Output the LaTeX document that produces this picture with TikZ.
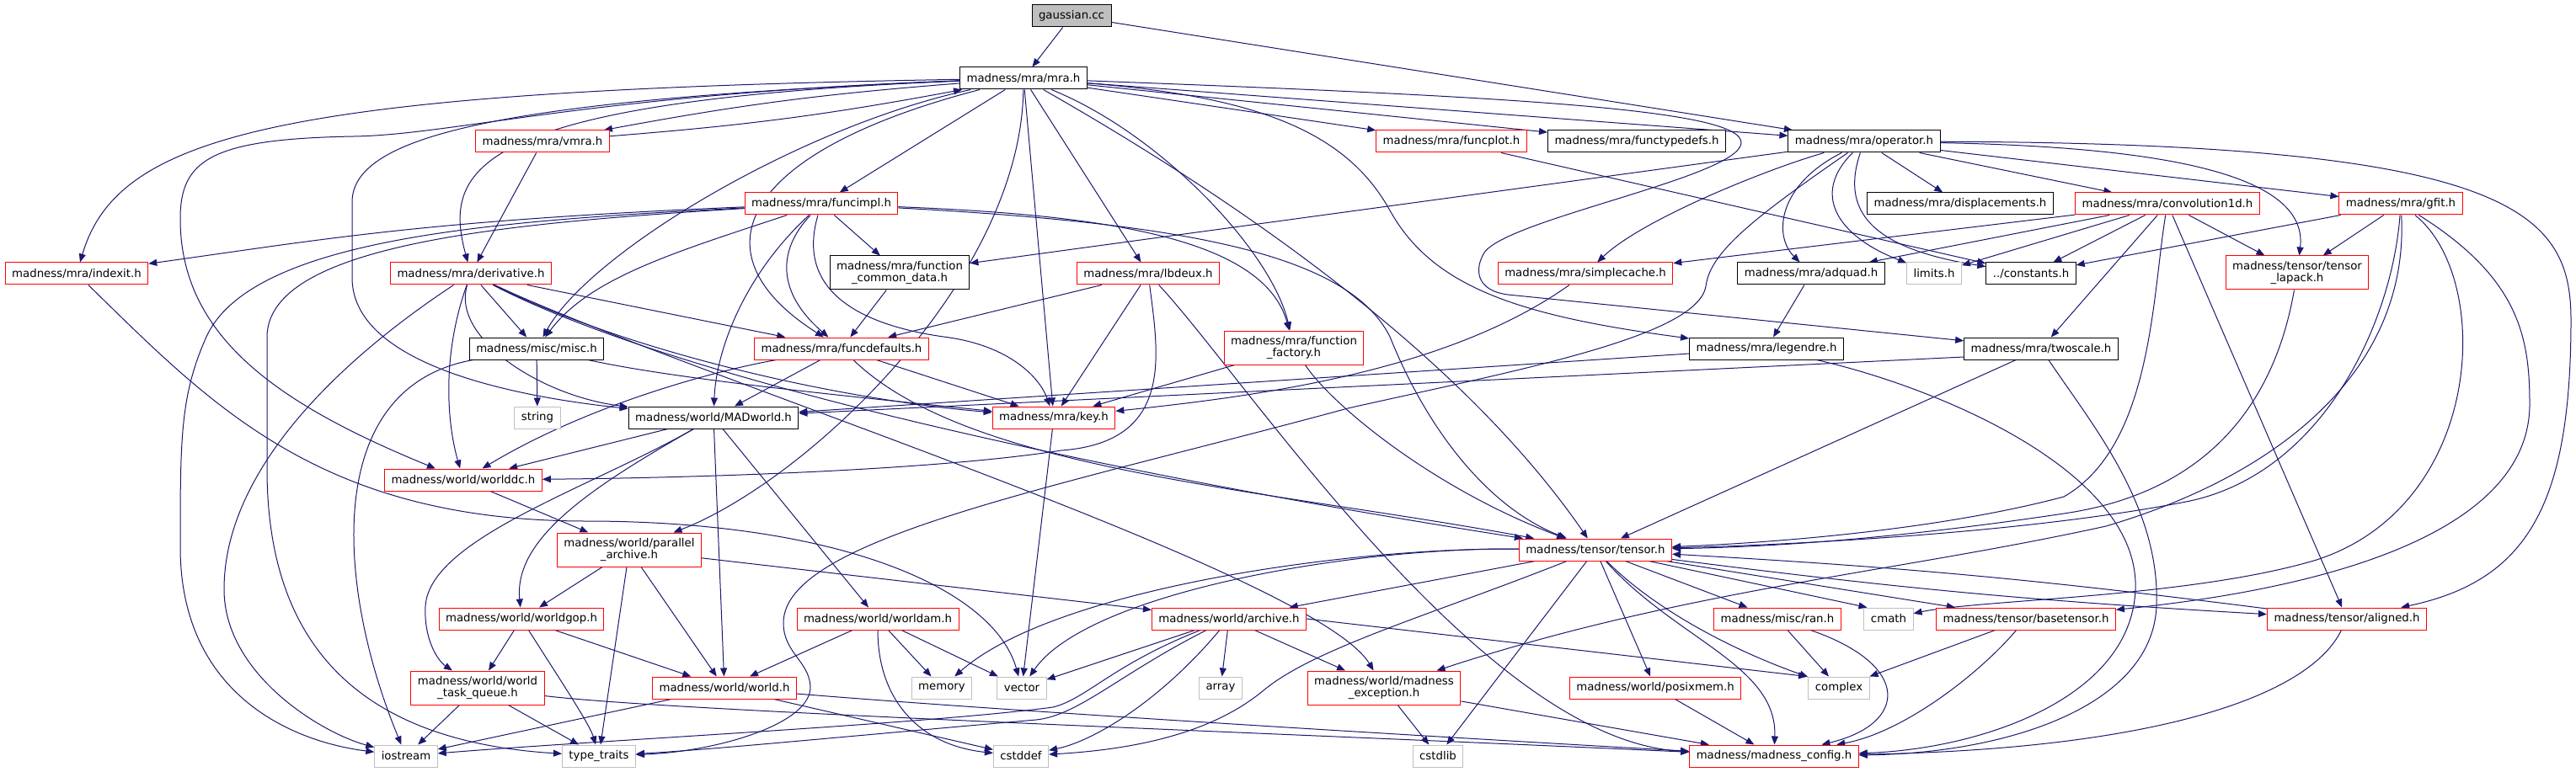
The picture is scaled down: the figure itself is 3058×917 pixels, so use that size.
\documentclass[tikz,border=0pt]{standalone}
\usepackage{fontspec}
\newfontfamily\dotfont{DejaVu Sans}
\usetikzlibrary{arrows.meta,backgrounds}
\definecolor{cEdge}{RGB}{25,25,112}
\definecolor{cRedLine}{RGB}{255,0,0}
\definecolor{cSysLine}{RGB}{191,191,191}
\definecolor{cRoot}{RGB}{191,191,191}
\tikzset{
  basefile/.style={rectangle,draw,fill=white,line width=1pt,
                   inner xsep=8pt,inner ysep=3pt,minimum height=26pt,
                   align=center,font=\dotfont\fontsize{13.3}{14.3}\selectfont},
  redfile/.style={basefile,draw=cRedLine},
  docfile/.style={basefile,draw=black},
  sysfile/.style={basefile,draw=cSysLine},
  rootfile/.style={basefile,draw=black,fill=cRoot},
  tall/.style={minimum height=40pt},
  incarr/.style={-{Triangle[length=10pt,width=8pt]},line width=1pt,draw=cEdge}
}

\begin{document}
\begin{tikzpicture}[x=1pt,y=1pt]
  \useasboundingbox (0,0) rectangle (3058,-917);

  % root and main header
  \node[rootfile] (gauss) at (1272,-19) {gaussian.cc};
  \node[docfile] (mra) at (1215,-93) {madness/mra/mra.h};

  % mra headers
  \node[redfile] (vmra) at (644,-168) {madness/mra/vmra.h};
  \node[redfile] (funcplot) at (1723,-168) {madness/mra/funcplot.h};
  \node[docfile] (ftypes) at (1943,-168) {madness/mra/functypedefs.h};
  \node[docfile] (oper) at (2213,-168) {madness/mra/operator.h};
  \node[redfile] (fimpl) at (975,-242) {madness/mra/funcimpl.h};
  \node[docfile] (displ) at (2327,-242) {madness/mra/displacements.h};
  \node[redfile] (conv) at (2573,-242) {madness/mra/convolution1d.h};
  \node[redfile] (gfit) at (2850,-242) {madness/mra/gfit.h};
  \node[redfile] (indexit) at (91,-325) {madness/mra/indexit.h};
  \node[redfile] (deriv) at (559,-325) {madness/mra/derivative.h};
  \node[docfile,tall] (fcommon) at (1068,-324) {madness/mra/function\\\_common\_data.h};
  \node[redfile] (lbdeux) at (1363,-325) {madness/mra/lbdeux.h};
  \node[redfile] (scache) at (1882,-325) {madness/mra/simplecache.h};
  \node[docfile] (adquad) at (2150,-325) {madness/mra/adquad.h};
  \node[sysfile] (limits) at (2296,-325) {limits.h};
  \node[docfile] (consts) at (2411,-325) {../constants.h};
  \node[redfile,tall] (tlapack) at (2727,-324) {madness/tensor/tensor\\\_lapack.h};
  \node[docfile] (misc) at (637,-414) {madness/misc/misc.h};
  \node[redfile] (fdefaults) at (999,-414) {madness/mra/funcdefaults.h};
  \node[redfile,tall] (ffactory) at (1536,-413) {madness/mra/function\\\_factory.h};
  \node[docfile] (legendre) at (2097,-414) {madness/mra/legendre.h};
  \node[docfile] (twoscale) at (2423,-414) {madness/mra/twoscale.h};
  \node[redfile] (key) at (1251,-496) {madness/mra/key.h};

  % world headers
  \node[docfile] (madworld) at (847,-496) {madness/world/MADworld.h};
  \node[redfile] (worlddc) at (550,-570) {madness/world/worlddc.h};
  \node[redfile,tall] (parch) at (747,-653) {madness/world/parallel\\\_archive.h};
  \node[redfile] (worldgop) at (619,-735) {madness/world/worldgop.h};
  \node[redfile] (worldam) at (1042,-735) {madness/world/worldam.h};
  \node[redfile] (archive) at (1459,-735) {madness/world/archive.h};
  \node[redfile,tall] (wtq) at (567,-817) {madness/world/world\\\_task\_queue.h};
  \node[redfile] (world) at (860,-817) {madness/world/world.h};
  \node[redfile,tall] (mexcept) at (1643,-817) {madness/world/madness\\\_exception.h};
  \node[redfile] (posixmem) at (1965,-817) {madness/world/posixmem.h};

  % tensor headers
  \node[redfile] (tensor) at (1894,-653) {madness/tensor/tensor.h};
  \node[redfile] (ran) at (2110,-735) {madness/misc/ran.h};
  \node[redfile] (btensor) at (2405,-735) {madness/tensor/basetensor.h};
  \node[redfile] (aligned) at (2786,-735) {madness/tensor/aligned.h};
  \node[redfile] (config) at (2106,-898) {madness/madness\_config.h};

  % system headers
  \node[sysfile] (string) at (638,-496) {string};
  \node[sysfile] (cmath) at (2242,-735) {cmath};
  \node[sysfile] (memory) at (1118,-817) {memory};
  \node[sysfile] (vector) at (1213,-817) {vector};
  \node[sysfile] (array) at (1449,-817) {array};
  \node[sysfile] (complex) at (2183,-817) {complex};
  \node[sysfile] (iostream) at (482,-898) {iostream};
  \node[sysfile] (ttraits) at (711,-898) {type\_traits};
  \node[sysfile] (cstddef) at (1212,-898) {cstddef};
  \node[sysfile] (cstdlib) at (1707,-898) {cstdlib};

  \begin{scope}[on background layer]
  \fill[white] (0,0) rectangle (3058,-917);

  % gaussian.cc
  \draw[incarr] (gauss) -- (mra);
  \draw[incarr] (gauss) -- (oper);

  % mra.h
  \draw[incarr] (mra) .. controls (330,-108) and (140,-160) .. (indexit);
  \draw[incarr] (mra) to[bend right=3] (vmra);
  \draw[incarr] (vmra) to[bend right=3] (mra);
  \draw[incarr] (mra) .. controls (560,-120) and (525,-200) .. (deriv);
  \draw[incarr] (mra) .. controls (700,-112) and (540,-160) .. (420,-162)
      .. controls (250,-165) and (214,-190) .. (214,-260)
      .. controls (214,-400) and (330,-480) .. (worlddc);
  \draw[incarr] (mra) .. controls (600,-118) and (418,-160) .. (418,-240) -- (418,-330)
      .. controls (418,-430) and (600,-470) .. (madworld);
  \draw[incarr] (mra) .. controls (950,-150) and (700,-300) .. (misc);
  \draw[incarr] (mra) .. controls (880,-180) and (820,-300) .. (fdefaults);
  \draw[incarr] (mra) -- (fimpl);
  \draw[incarr] (mra) .. controls (1212,-330) and (960,-570) .. (parch);
  \draw[incarr] (mra) -- (key);
  \draw[incarr] (mra) -- (lbdeux);
  \draw[incarr] (mra) .. controls (1380,-160) and (1510,-300) .. (ffactory);
  \draw[incarr] (mra) .. controls (1420,-210) and (1720,-400) .. (tensor);
  \draw[incarr] (mra) .. controls (1500,-115) and (1600,-160) .. (1650,-250)
      .. controls (1700,-340) and (1800,-375) .. (legendre);
  \draw[incarr] (mra) -- (funcplot);
  \draw[incarr] (mra) -- (ftypes);
  \draw[incarr] (mra) -- (oper);
  \draw[incarr] (mra) .. controls (1800,-115) and (2070,-130) .. (2067,-170)
      .. controls (2064,-210) and (1790,-260) .. (1762,-300)
      .. controls (1750,-320) and (1752,-345) .. (1790,-350) -- (twoscale);

  % vmra.h, indexit.h
  \draw[incarr] (vmra) -- (deriv);
  \draw[incarr] (indexit) .. controls (250,-480) and (380,-620) .. (700,-619)
      .. controls (1000,-620) and (1180,-700) .. (vector);

  % derivative.h
  \draw[incarr] (deriv) -- (misc);
  \draw[incarr] (deriv) -- (fdefaults);
  \draw[incarr] (deriv) .. controls (535,-400) and (640,-470) .. (madworld);
  \draw[incarr] (deriv) .. controls (525,-420) and (530,-500) .. (worlddc);
  \draw[incarr] (deriv) .. controls (400,-430) and (266,-560) .. (266,-700)
      .. controls (266,-800) and (380,-870) .. (iostream);
  \draw[incarr] (deriv) .. controls (750,-420) and (1000,-475) .. (key);
  \draw[incarr] (deriv) .. controls (800,-450) and (1300,-560) .. (tensor);
  \draw[incarr] (deriv) .. controls (800,-440) and (1560,-680) .. (mexcept);

  % funcimpl.h
  \draw[incarr] (fimpl) .. controls (500,-262) and (380,-285) .. (indexit);
  \draw[incarr] (fimpl) .. controls (600,-262) and (300,-280) .. (245,-400)
      .. controls (214,-470) and (214,-520) .. (214,-650)
      .. controls (214,-820) and (340,-880) .. (iostream);
  \draw[incarr] (fimpl) .. controls (600,-265) and (318,-290) .. (317,-400) -- (317,-560)
      .. controls (318,-760) and (420,-880) .. (ttraits);
  \draw[incarr] (fimpl) .. controls (800,-300) and (700,-330) .. (misc);
  \draw[incarr] (fimpl) .. controls (920,-300) and (925,-350) .. (fdefaults);
  \draw[incarr] (fimpl) .. controls (880,-330) and (850,-420) .. (madworld);
  \draw[incarr] (fimpl) .. controls (940,-360) and (1050,-390) .. (1120,-400)
      .. controls (1200,-410) and (1235,-450) .. (key);
  \draw[incarr] (fimpl) -- (fcommon);
  \draw[incarr] (fimpl) .. controls (1300,-255) and (1500,-280) .. (ffactory);
  \draw[incarr] (fimpl) .. controls (1400,-265) and (1600,-300) .. (1650,-400)
      .. controls (1690,-500) and (1760,-600) .. (tensor);
  \draw[incarr] (fcommon) -- (fdefaults);

  % lbdeux.h, function_factory.h
  \draw[incarr] (lbdeux) -- (fdefaults);
  \draw[incarr] (lbdeux) -- (key);
  \draw[incarr] (lbdeux) .. controls (1375,-420) and (1395,-525) .. (1260,-535)
      .. controls (1100,-560) and (800,-568) .. (worlddc);
  \draw[incarr] (lbdeux) .. controls (1480,-450) and (1760,-880) .. (config);
  \draw[incarr] (ffactory) -- (key);
  \draw[incarr] (ffactory) .. controls (1580,-480) and (1700,-580) .. (tensor);

  % funcdefaults.h, misc.h
  \draw[incarr] (fdefaults) .. controls (850,-440) and (700,-480) .. (worlddc);
  \draw[incarr] (fdefaults) -- (madworld);
  \draw[incarr] (fdefaults) -- (key);
  \draw[incarr] (fdefaults) .. controls (1150,-560) and (1500,-580) .. (tensor);
  \draw[incarr] (misc) -- (string);
  \draw[incarr] (misc) .. controls (380,-460) and (400,-700) .. (iostream);
  \draw[incarr] (misc) .. controls (800,-450) and (1000,-470) .. (key);

  % MADworld.h and world headers
  \draw[incarr] (madworld) -- (worlddc);
  \draw[incarr] (madworld) .. controls (700,-580) and (610,-640) .. (worldgop);
  \draw[incarr] (madworld) .. controls (700,-580) and (510,-640) .. (505,-720)
      .. controls (503,-760) and (520,-785) .. (wtq);
  \draw[incarr] (madworld) -- (world);
  \draw[incarr] (madworld) -- (worldam);
  \draw[incarr] (worlddc) -- (parch);
  \draw[incarr] (parch) -- (worldgop);
  \draw[incarr] (parch) -- (world);
  \draw[incarr] (parch) -- (ttraits);
  \draw[incarr] (parch) -- (archive);
  \draw[incarr] (worldgop) -- (wtq);
  \draw[incarr] (worldgop) -- (world);
  \draw[incarr] (worldgop) .. controls (660,-800) and (700,-860) .. (ttraits);
  \draw[incarr] (wtq) -- (iostream);
  \draw[incarr] (wtq) -- (ttraits);
  \draw[incarr] (wtq) .. controls (800,-845) and (1500,-870) .. (config);
  \draw[incarr] (world) -- (iostream);
  \draw[incarr] (world) -- (cstddef);
  \draw[incarr] (world) .. controls (1200,-845) and (1700,-875) .. (config);
  \draw[incarr] (worldam) -- (world);
  \draw[incarr] (worldam) -- (memory);
  \draw[incarr] (worldam) -- (vector);
  \draw[incarr] (worldam) .. controls (1042,-830) and (1090,-885) .. (cstddef);

  % archive.h, key.h
  \draw[incarr] (archive) -- (vector);
  \draw[incarr] (archive) -- (array);
  \draw[incarr] (archive) .. controls (1320,-790) and (1290,-830) .. (1250,-840)
      .. controls (1100,-860) and (700,-880) .. (iostream);
  \draw[incarr] (archive) .. controls (1330,-800) and (1280,-850) .. (1230,-855)
      .. controls (1000,-875) and (850,-890) .. (ttraits);
  \draw[incarr] (archive) .. controls (1380,-830) and (1300,-880) .. (cstddef);
  \draw[incarr] (archive.east) -- ([xshift=-38pt]complex.north);
  \draw[incarr] (archive) -- (mexcept);
  \draw[incarr] (key) -- (vector);

  % tensor.h
  \draw[incarr] (tensor) -- (archive);
  \draw[incarr] (tensor) .. controls (1600,-650) and (1250,-700) .. (memory);
  \draw[incarr] (tensor) .. controls (1600,-650) and (1290,-705) .. (vector);
  \draw[incarr] (tensor) .. controls (1700,-730) and (1560,-770) .. (1500,-820)
      .. controls (1440,-870) and (1350,-890) .. (cstddef);
  \draw[incarr] (tensor) -- (cstdlib);
  \draw[incarr] (tensor) -- (posixmem);
  \draw[incarr] (tensor) .. controls (1990,-760) and (2110,-790) .. (config);
  \draw[incarr] (tensor) .. controls (1960,-720) and (2050,-770) .. (complex);
  \draw[incarr] (tensor) -- (ran);
  \draw[incarr] (tensor) -- ([xshift=4pt]cmath.north west);
  \draw[incarr] (tensor) -- (btensor);
  \draw[incarr] (tensor) to[bend right=2] (aligned);
  \draw[incarr] (aligned) to[bend right=2] (tensor);

  % leaves of tensor.h
  \draw[incarr] (btensor) -- (complex);
  \draw[incarr] (btensor) .. controls (2350,-800) and (2260,-870) .. (config);
  \draw[incarr] (ran) -- (complex);
  \draw[incarr] (ran) .. controls (2270,-790) and (2265,-860) .. (config);
  \draw[incarr] (aligned) .. controls (2740,-830) and (2550,-890) .. (config);
  \draw[incarr] (mexcept) -- (cstdlib);
  \draw[incarr] (mexcept) -- (config);
  \draw[incarr] (posixmem) -- (config);

  % legendre.h, twoscale.h, simplecache.h, adquad.h
  \draw[incarr] (legendre) -- (madworld);
  \draw[incarr] (legendre) .. controls (2300,-460) and (2540,-560) .. (2535,-700)
      .. controls (2530,-830) and (2350,-890) .. (config);
  \draw[incarr] ([yshift=-10pt]twoscale.west) -- (madworld);
  \draw[incarr] (twoscale) -- (tensor);
  \draw[incarr] (twoscale) .. controls (2480,-500) and (2565,-600) .. (2560,-720)
      .. controls (2555,-840) and (2380,-895) .. (config);
  \draw[incarr] (scache) .. controls (1720,-440) and (1500,-470) .. (key);
  \draw[incarr] (adquad) -- (legendre);

  % operator.h
  \draw[incarr] (oper) -- (fcommon);
  \draw[incarr] (oper) .. controls (2100,-200) and (1950,-260) .. (scache);
  \draw[incarr] (oper) .. controls (2110,-220) and (2105,-280) .. (adquad);
  \draw[incarr] (oper) .. controls (2150,-230) and (2180,-280) .. (limits);
  \draw[incarr] (oper) .. controls (2185,-250) and (2220,-295) .. (consts);
  \draw[incarr] (oper) -- (displ);
  \draw[incarr] (oper) -- (conv);
  \draw[incarr] (oper) -- (gfit);
  \draw[incarr] (oper) .. controls (2600,-175) and (2740,-215) .. (tlapack);
  \draw[incarr] (oper) .. controls (2980,-170) and (3052,-250) .. (3052,-380)
      .. controls (3052,-600) and (3000,-690) .. (aligned);
  \draw[incarr] (oper) .. controls (2080,-260) and (2030,-300) .. (2025,-340)
      .. controls (2015,-400) and (1800,-440) .. (1600,-485)
      .. controls (1250,-580) and (930,-640) .. (930,-740)
      .. controls (930,-775) and (960,-785) .. (962,-815)
      .. controls (964,-860) and (850,-893) .. (ttraits);
  \draw[incarr] (funcplot) -- (consts);

  % convolution1d.h
  \draw[incarr] (conv) -- (scache);
  \draw[incarr] (conv) -- (adquad);
  \draw[incarr] (conv) -- (limits);
  \draw[incarr] (conv) -- (consts);
  \draw[incarr] (conv) -- (twoscale);
  \draw[incarr] (conv) .. controls (2555,-350) and (2555,-530) .. (2450,-590)
      .. controls (2300,-630) and (2100,-645) .. (tensor);
  \draw[incarr] (conv) -- (aligned);
  \draw[incarr] (conv) -- (tlapack);

  % gfit.h, tensor_lapack.h
  \draw[incarr] (gfit) -- (consts);
  \draw[incarr] (gfit) -- (tlapack);
  \draw[incarr] (gfit) .. controls (2840,-380) and (2760,-560) .. (2600,-595)
      .. controls (2400,-635) and (2100,-648) .. (tensor);
  \draw[incarr] (gfit) .. controls (2860,-430) and (2720,-560) .. (2500,-625)
      .. controls (2250,-680) and (2000,-700) .. (mexcept);
  \draw[incarr] (gfit) .. controls (2960,-330) and (2950,-600) .. (2750,-665)
      .. controls (2600,-710) and (2350,-712) .. (cmath);
  \draw[incarr] (gfit) .. controls (2990,-330) and (3003,-400) .. (3003,-480)
      .. controls (3003,-620) and (2800,-695) .. (btensor);
  \draw[incarr] (tlapack) .. controls (2700,-480) and (2620,-585) .. (2450,-610)
      .. controls (2250,-640) and (2100,-650) .. (tensor);
  \end{scope}
\end{tikzpicture}
\end{document}
